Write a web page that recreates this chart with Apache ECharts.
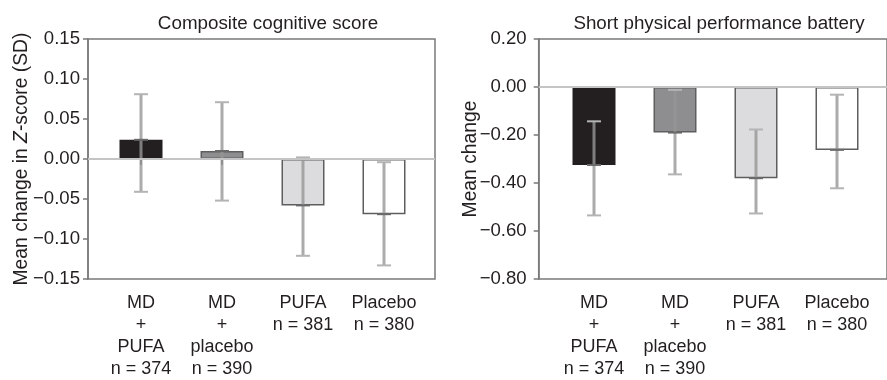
<!DOCTYPE html>
<html>
<head>
<meta charset="utf-8">
<script src="https://cdn.jsdelivr.net/npm/echarts@6/dist/echarts.min.js"></script>
<style>
  html, body { margin: 0; padding: 0; background: #fff; }
  #chart { width: 887px; height: 380px; }
</style>
</head>
<body>
<div id="chart"></div>
<script>
// groups on the x axis
const categories = ['MD\n+\nPUFA\nn = 374', 'MD\n+\nplacebo\nn = 390', 'PUFA\nn = 381', 'Placebo\nn = 380'];

// composite cognitive score (mean change in Z-score, SD)
const cognitiveMean = [0.024, 0.010, -0.058, -0.069];
const cognitiveLow = [-0.041, -0.052, -0.121, -0.133];
const cognitiveHigh = [0.081, 0.071, 0.002, -0.004];

// short physical performance battery (mean change)
const sppbMean = [-0.325, -0.190, -0.380, -0.262];
const sppbLow = [-0.535, -0.364, -0.527, -0.422];
const sppbHigh = [-0.143, -0.012, -0.177, -0.032];

const barColors = ['#231f20', '#8e8e90', '#dcdcde', '#ffffff'];
const FONT = 'Liberation Sans';
const TEXT = '#231f20';
const FRAME = '#7a7a7a';

function fmt(v) {
  return v.toFixed(2).replace('-', '\u2212');
}

function barData(means) {
  return means.map(function (v, i) {
    return {
      value: v,
      itemStyle: {
        color: barColors[i],
        borderColor: i === 0 ? barColors[0] : '#5e5e5e',
        borderWidth: i === 0 ? 0 : 1.5
      }
    };
  });
}

function errData(low, high, mean) {
  return mean.map(function (m, i) { return [i, low[i], high[i], m]; });
}

function renderErr(params, api) {
  let x = api.value(0);
  let pHi = api.coord([x, api.value(2)]);
  let pLo = api.coord([x, api.value(1)]);
  let pM = api.coord([x, api.value(3)]);
  let w = 7;
  return {
    type: 'group',
    children: [
      { type: 'line', shape: { x1: pHi[0], y1: pHi[1], x2: pLo[0], y2: pLo[1] },
        style: { stroke: 'rgba(150,150,150,0.8)', lineWidth: 3 } },
      { type: 'line', shape: { x1: pHi[0] - w, y1: pHi[1], x2: pHi[0] + w, y2: pHi[1] },
        style: { stroke: '#b4b4b4', lineWidth: 2 } },
      { type: 'line', shape: { x1: pLo[0] - w, y1: pLo[1], x2: pLo[0] + w, y2: pLo[1] },
        style: { stroke: '#b4b4b4', lineWidth: 2 } },
      { type: 'line', shape: { x1: pM[0] - w, y1: pM[1], x2: pM[0] + w, y2: pM[1] },
        style: { stroke: '#6a6a6a', lineWidth: 2 } }
    ]
  };
}

// frame grid carries the y axis, bar grid carries the categories
function frameY(min, max, interval, name, gap, margin, idx) {
  return {
    type: 'value', gridIndex: idx, min: min, max: max, interval: interval,
    name: name, nameLocation: 'middle', nameGap: gap, nameMoveOverlap: false,
    nameTextStyle: {
      color: TEXT, fontSize: 19.3, fontFamily: FONT,
      rich: { i: { fontStyle: 'italic', fontSize: 19.3, fontFamily: FONT, color: TEXT } }
    },
    axisLine: { show: true, lineStyle: { color: FRAME, width: 1.5 } },
    axisTick: { show: true, length: 5, lineStyle: { color: FRAME, width: 1.5 } },
    axisLabel: { color: TEXT, fontSize: 18.6, fontFamily: FONT, margin: margin, formatter: fmt },
    splitLine: { show: false }
  };
}

function hiddenY(min, max, idx) {
  return { type: 'value', gridIndex: idx, min: min, max: max, show: false, splitLine: { show: false } };
}

function catX(idx) {
  return {
    type: 'category', gridIndex: idx, data: categories,
    axisLine: { show: false },
    axisTick: { show: true, alignWithLabel: true, length: 6, lineStyle: { color: FRAME, width: 2 } },
    axisLabel: { color: TEXT, fontSize: 18, fontFamily: FONT, lineHeight: 22, margin: 13, interval: 0 }
  };
}

function zeroLine(idx) {
  return {
    type: 'line', xAxisIndex: idx, yAxisIndex: idx, data: [], z: 1, silent: true,
    markLine: {
      silent: true, symbol: 'none', label: { show: false },
      lineStyle: { color: '#c4c4c4', width: 2, type: 'solid' },
      data: [{ yAxis: 0 }]
    }
  };
}

let myChart = echarts.init(document.getElementById('chart'), null, { renderer: 'canvas' });

let option = {
  animation: false,
  title: [{
    text: 'Composite cognitive score', left: 263, top: 9, textAlign: 'center',
    textStyle: { color: TEXT, fontSize: 18.8, fontWeight: 'normal', fontFamily: FONT }
  }, {
    text: 'Short physical performance battery', left: 714, top: 9, textAlign: 'center',
    textStyle: { color: TEXT, fontSize: 18.8, fontWeight: 'normal', fontFamily: FONT }
  }],
  grid: [
    { left: 88, top: 39, width: 347, height: 240, show: true, borderColor: FRAME, borderWidth: 1.5 },
    { left: 100.5, top: 39, width: 324, height: 240 },
    { left: 538.7, top: 39, width: 350, height: 240, show: true, borderColor: FRAME, borderWidth: 1.5 },
    { left: 553.5, top: 39, width: 324, height: 240 }
  ],
  xAxis: [
    { type: 'value', gridIndex: 0, min: 0, max: 1, show: false },
    catX(1),
    { type: 'value', gridIndex: 2, min: 0, max: 1, show: false },
    catX(3)
  ],
  yAxis: [
    frameY(-0.15, 0.15, 0.05, 'Mean change in {i|Z}-score (SD)', 57, 8, 0),
    hiddenY(-0.15, 0.15, 1),
    frameY(-0.8, 0.2, 0.2, 'Mean change', 59, 12, 2),
    hiddenY(-0.8, 0.2, 3)
  ],
  series: [
    zeroLine(0),
    { type: 'bar', xAxisIndex: 1, yAxisIndex: 1, barWidth: 43, z: 2, silent: true, data: barData(cognitiveMean) },
    { type: 'custom', xAxisIndex: 1, yAxisIndex: 1, z: 3, silent: true, renderItem: renderErr,
      data: errData(cognitiveLow, cognitiveHigh, cognitiveMean) },
    zeroLine(2),
    { type: 'bar', xAxisIndex: 3, yAxisIndex: 3, barWidth: 43, z: 2, silent: true, data: barData(sppbMean) },
    { type: 'custom', xAxisIndex: 3, yAxisIndex: 3, z: 3, silent: true, renderItem: renderErr,
      data: errData(sppbLow, sppbHigh, sppbMean) }
  ]
};

myChart.setOption(option);
</script>
</body>
</html>
